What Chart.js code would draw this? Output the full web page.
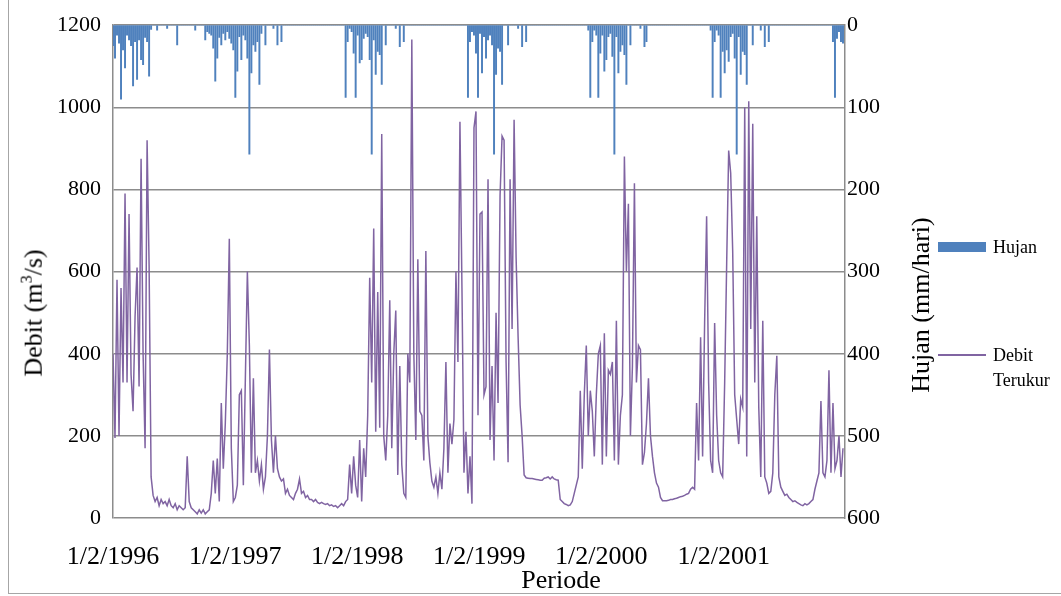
<!DOCTYPE html>
<html>
<head>
<meta charset="utf-8">
<script src="https://cdn.jsdelivr.net/npm/chart.js@4.4.0/dist/chart.umd.min.js"></script>
<style>
  body { margin: 0; background: #fff; }
  #wrap { position: relative; width: 1061px; height: 596px; font-family: "Liberation Serif", "Times New Roman", serif; color: #000; }
  #frame { position: absolute; left: 8px; top: 0; width: 1052px; height: 593px; border-left: 1px solid #a6a6a6; border-bottom: 1px solid #a6a6a6; }
  #chart { position: absolute; left: 0; top: 0; }
  .vtitle { position: absolute; transform: translate(-50%, -50%) rotate(-90deg); white-space: nowrap; font-size: 26px; }
  .htitle { position: absolute; transform: translate(-50%, -50%); white-space: nowrap; font-size: 26px; }
  .leg { position: absolute; font-size: 18px; line-height: 25px; }
  .swatch-bar { position: absolute; left: 938px; top: 242px; width: 48px; height: 10px; background: #4f81bd; }
  .swatch-line { position: absolute; left: 938px; top: 354px; width: 48px; height: 2px; background: #8064a2; }
</style>
</head>
<body>
<div id="wrap">
  <div id="frame"></div>
  <canvas id="chart" width="1061" height="596"></canvas>
  <div class="vtitle" style="left:33px; top:313px;">Debit (m<sup style="font-size:16px">3</sup>/s)</div>
  <div class="vtitle" style="left:921px; top:305px;">Hujan (mm/hari)</div>
  <div class="htitle" style="left:561px; top:580px;">Periode</div>
  <div class="swatch-bar"></div>
  <div class="leg" style="left:993px; top:235px;">Hujan</div>
  <div class="swatch-line"></div>
  <div class="leg" style="left:993px; top:343px;">Debit<br>Terukur</div>
</div>
<script>
// Tick labels on the time axis (days counted from 1/2/1996)
const tickDays = [0, 366, 731, 1096, 1461, 1827];
const tickLabels = ['1/2/1996', '1/2/1997', '1/2/1998', '1/2/1999', '1/2/2000', '1/2/2001'];
const lastDay = 2190;
const stepDays = 6; // one reading every 6 days

// Debit terukur (m3/s)
const debit = [
  400, 195, 580, 200, 560, 330, 790, 330, 740, 350,
  260, 490, 610, 320, 875, 400, 170, 920, 615, 100,
  55, 40, 50, 30, 45, 35, 40, 30, 45, 30,
  25, 35, 20, 30, 25, 20, 25, 150, 40, 25,
  20, 15, 10, 20, 12, 20, 10, 15, 20, 60,
  140, 60, 145, 40, 280, 120, 230, 400, 680, 170,
  40, 50, 80, 300, 310, 80, 340, 600, 420, 110,
  340, 110, 140, 90, 130, 70, 100, 200, 410, 190,
  110, 200, 120, 100, 90, 95, 60, 70, 55, 50,
  45, 60, 70, 95, 60, 65, 50, 55, 45, 45,
  40, 45, 38, 35, 38, 35, 33, 35, 30, 32,
  28, 30, 25, 30, 35, 30, 40, 45, 130, 60,
  150, 80, 50, 190, 40, 170, 100, 250, 585, 330,
  705, 210, 550, 220, 935, 200, 140, 250, 530, 170,
  400, 505, 105, 370, 130, 60, 50, 400, 330, 1165,
  400, 190, 630, 260, 250, 140, 650, 200, 135, 90,
  75, 100, 60, 110, 70, 170, 380, 110, 230, 180,
  240, 600, 380, 965, 560, 110, 210, 60, 150, 35,
  950, 990, 250, 740, 745, 300, 320, 825, 190, 370,
  140, 500, 280, 785, 930, 920, 380, 136, 825, 460,
  970, 635, 440, 275, 200, 105, 98, 97, 96, 96,
  95, 94, 93, 92, 92, 97, 98, 100, 95, 100,
  95, 93, 92, 45, 40, 35, 33, 30, 32, 40,
  60, 80, 100, 310, 120, 300, 420, 200, 310, 260,
  150, 300, 400, 420, 130, 450, 150, 360, 350, 380,
  140, 480, 130, 250, 300, 880, 600, 765, 200, 370,
  815, 330, 420, 410, 130, 160, 230, 340, 200, 150,
  110, 85, 75, 50, 42, 42, 42, 43, 45, 45,
  47, 48, 50, 52, 53, 55, 58, 60, 70, 75,
  70, 280, 140, 440, 150, 475, 735, 330, 140, 110,
  475, 250, 140, 110, 100, 330, 620, 895, 840, 650,
  300, 240, 180, 290, 270, 1000, 150, 1015, 460, 960,
  330, 735, 270, 100, 480, 100, 85, 60, 65, 110,
  300, 395, 100, 75, 65, 55, 58, 50, 45, 40,
  42, 38, 35, 32, 30, 35, 32, 35, 40, 45,
  70, 90, 110, 285, 110, 100, 140, 360, 110, 280,
  120, 140, 200, 100, 170
];

// Hujan (mm/hari)
const hujan = [
  25, 40, 12, 22, 90, 30, 52, 12, 18, 25,
  74, 20, 66, 18, 42, 48, 15, 20, 62, 5,
  0, 0, 6, 0, 0, 0, 0, 4, 0, 0,
  0, 0, 24, 0, 0, 0, 0, 0, 0, 0,
  0, 6, 0, 0, 0, 0, 18, 8, 10, 12,
  28, 68, 40, 15, 24, 10, 18, 8, 16, 22,
  30, 88, 56, 14, 42, 12, 18, 40, 157, 58,
  24, 32, 20, 72, 10, 0, 24, 0, 0, 0,
  4, 0, 24, 0, 20, 0, 0, 0, 0, 0,
  0, 0, 0, 0, 0, 0, 0, 0, 0, 0,
  0, 0, 0, 0, 0, 0, 0, 0, 0, 0,
  0, 0, 0, 0, 0, 0, 88, 20, 4, 8,
  34, 88, 12, 46, 42, 16, 10, 14, 42, 157,
  18, 60, 32, 36, 72, 0, 24, 0, 0, 0,
  0, 4, 0, 26, 0, 20, 0, 0, 0, 0,
  0, 0, 0, 0, 0, 0, 0, 0, 0, 0,
  0, 0, 0, 0, 0, 0, 0, 0, 0, 0,
  0, 0, 0, 0, 0, 0, 0, 88, 20, 8,
  12, 34, 88, 10, 58, 14, 40, 18, 12, 24,
  157, 60, 28, 32, 72, 0, 0, 24, 0, 0,
  0, 0, 4, 0, 26, 0, 20, 0, 0, 0,
  0, 0, 0, 0, 0, 0, 0, 0, 0, 0,
  0, 0, 0, 0, 0, 0, 0, 0, 0, 0,
  0, 0, 0, 0, 0, 0, 0, 6, 88, 20,
  6, 12, 88, 34, 12, 56, 42, 14, 10, 38,
  157, 14, 58, 32, 24, 36, 72, 0, 24, 0,
  0, 0, 0, 4, 0, 26, 20, 0, 0, 0,
  0, 0, 0, 0, 0, 0, 0, 0, 0, 0,
  0, 0, 0, 0, 0, 0, 0, 0, 0, 0,
  0, 0, 0, 0, 0, 0, 0, 0, 6, 88,
  20, 6, 12, 88, 32, 58, 30, 44, 14, 10,
  40, 157, 14, 60, 32, 36, 72, 0, 0, 24,
  0, 0, 0, 6, 0, 26, 0, 20, 0, 0,
  0, 0, 0, 0, 0, 0, 0, 0, 0, 0,
  0, 0, 0, 0, 0, 0, 0, 0, 0, 0,
  0, 0, 0, 0, 0, 0, 0, 0, 0, 20,
  88, 16, 8, 20, 22
];

const serif = '"Liberation Serif", "Times New Roman", serif';
const gridGray = '#8c8c8c';

new Chart(document.getElementById('chart'), {
    data: {
        datasets: [
            {
                type: 'line',
                label: 'Debit Terukur',
                data: debit.map((v, i) => ({ x: i * stepDays, y: v })),
                yAxisID: 'y',
                borderColor: '#8064a2',
                borderWidth: 1.5,
                pointRadius: 0,
                tension: 0,
                order: 0
            },
            {
                type: 'bar',
                label: 'Hujan',
                data: hujan.map((v, i) => ({ x: i * stepDays, y: v })),
                yAxisID: 'y2',
                backgroundColor: '#4f81bd',
                barThickness: 1.3,
                order: 1
            }
        ]
    },
    options: {
        responsive: false,
        animation: false,
        layout: { padding: { left: 0, right: 0, top: 22, bottom: 0 } },
        plugins: { legend: { display: false }, tooltip: { enabled: false } },
        scales: {
            x: {
                type: 'linear',
                min: 0,
                max: lastDay,
                offset: false,
                grid: { display: false, drawTicks: false },
                border: { display: false },
                afterBuildTicks: s => { s.ticks = tickDays.map(v => ({ value: v })); },
                afterFit: s => { s.height = 78; },
                ticks: {
                    autoSkip: false,
                    maxRotation: 0,
                    padding: 24,
                    color: '#000',
                    font: { family: serif, size: 26 },
                    callback: v => tickLabels[tickDays.indexOf(v)]
                }
            },
            y: {
                position: 'left',
                min: 0,
                max: 1200,
                afterFit: s => { s.width = 113; },
                ticks: { stepSize: 200, padding: 12, color: '#000', font: { family: serif, size: 22 }, callback: v => String(v) },
                grid: { color: gridGray, lineWidth: 1.5, drawTicks: false },
                border: { display: true, color: gridGray, width: 1.5 }
            },
            y2: {
                position: 'right',
                reverse: true,
                min: 0,
                max: 600,
                afterFit: s => { s.width = 216; },
                ticks: { stepSize: 100, padding: 2, color: '#000', font: { family: serif, size: 22 }, callback: v => String(v) },
                grid: { display: false, drawTicks: false },
                border: { display: true, color: gridGray, width: 1.5 }
            }
        }
    }
});
</script>
</body>
</html>
